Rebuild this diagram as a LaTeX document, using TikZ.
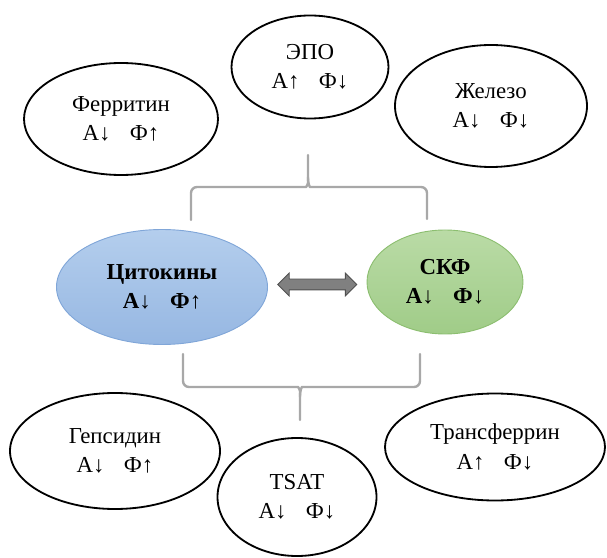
\documentclass[tikz,border=0pt]{standalone}
\usepackage{fontspec}
\setmainfont{Liberation Serif}
\usepackage{tikz}
\usetikzlibrary{arrows.meta, positioning, calc, shapes.geometric, shapes.arrows}

\definecolor{cytotop}{RGB}{180,206,237}
\definecolor{cytobot}{RGB}{150,183,226}
\definecolor{cytoline}{RGB}{128,166,216}
\definecolor{gfrtop}{RGB}{186,219,166}
\definecolor{gfrbot}{RGB}{160,204,136}
\definecolor{gfrline}{RGB}{140,190,112}
\definecolor{bracegray}{RGB}{168,168,168}
\definecolor{arrowfill}{RGB}{128,128,128}
\definecolor{arrowline}{RGB}{80,80,80}

\begin{document}
\begin{tikzpicture}[
    marker/.style={ellipse, draw=black, line width=2.6pt, inner sep=0pt, align=center,
      font=\fontsize{32.5}{42}\selectfont},
    keynode/.style={ellipse, line width=1.3pt, inner sep=0pt, align=center,
      font=\fontsize{32.5}{42}\selectfont\bfseries},
    bracket/.style={draw=bracegray, line width=3.4pt, rounded corners=0.3cm, line cap=round}
  ]
  \useasboundingbox (0,0) rectangle (30.35,27.85);
  % top row
  \node[marker, minimum width=9.7cm, minimum height=5.6cm] (ferritin) at (6.05,21.9) {Ферритин\\А↓\hspace{0.85em}Ф↑};
  \node[marker, minimum width=7.85cm, minimum height=5.15cm] (epo) at (15.5,24.5) {ЭПО\\А↑\hspace{0.85em}Ф↓};
  \node[marker, minimum width=9.6cm, minimum height=6.1cm] (iron) at (24.55,22.55) {Железо\\А↓\hspace{0.85em}Ф↓};
  % upper brace
  \draw[bracket] (9.55,16.85) |- (15.0,18.5) .. controls (15.3,18.5) and (15.4,18.6) .. (15.4,19.0) -- (15.4,20.1);
  \draw[bracket] (21.35,16.9) |- (15.8,18.5) .. controls (15.5,18.5) and (15.4,18.6) .. (15.4,19.0);
  % cytokines and GFR
  \node[keynode, draw=cytoline, top color=cytotop, bottom color=cytobot,
    minimum width=10.55cm, minimum height=5.75cm] (cyto) at (8.1,13.5) {Цитокины\\А↓\hspace{0.85em}Ф↑};
  \node[keynode, draw=gfrline, top color=gfrtop, bottom color=gfrbot,
    minimum width=7.8cm, minimum height=5.2cm] (gfr) at (22.25,13.75) {СКФ\\А↓\hspace{0.85em}Ф↓};
  \node[double arrow, draw=arrowline, fill=arrowfill, line width=1.2pt, inner xsep=0pt, inner ysep=0.25cm,
    minimum height=3.95cm, double arrow head extend=0.3cm] (link)
    at ($(cyto.east)!0.5!(gfr.west)$) {};
  % lower brace
  \draw[bracket] (9.15,10.15) |- (14.6,8.5) .. controls (14.9,8.5) and (15.0,8.4) .. (15.0,8.0) -- (15.0,6.85);
  \draw[bracket] (21.0,10.15) |- (15.4,8.5) .. controls (15.1,8.5) and (15.0,8.4) .. (15.0,8.0);
  % bottom row
  \node[marker, minimum width=10.5cm, minimum height=5.8cm] (hepcidin) at (5.75,5.3) {Гепсидин\\А↓\hspace{0.85em}Ф↑};
  \node[marker, minimum width=7.95cm, minimum height=5.9cm] (tsat) at (14.85,3.0) {TSAT\\А↓\hspace{0.85em}Ф↓};
  \node[marker, minimum width=11.0cm, minimum height=5.35cm] (transferrin) at (24.75,5.5) {Трансферрин\\А↑\hspace{0.85em}Ф↓};
\end{tikzpicture}
\end{document}
